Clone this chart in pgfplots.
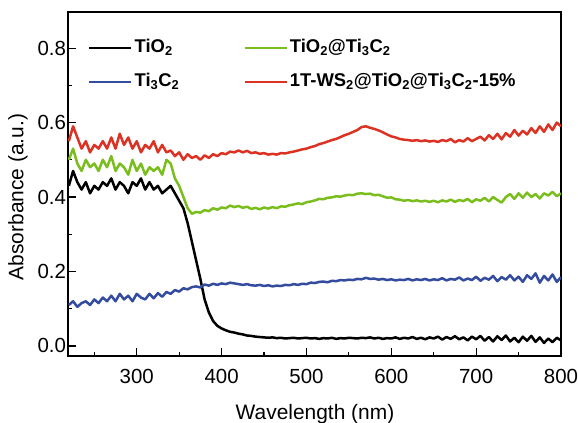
\documentclass[border=0pt]{standalone}
\usepackage{fontspec}
\setmainfont{Liberation Sans}
\usepackage{pgfplots}
\pgfplotsset{compat=1.18}
\definecolor{cblue}{RGB}{52,76,160}
\definecolor{cgreen}{RGB}{122,190,30}
\definecolor{cred}{RGB}{220,50,35}
\begin{document}
\begin{tikzpicture}
\begin{axis}[
 scale only axis, width=493bp, height=344bp,
 xmin=219, xmax=800, ymin=-0.027, ymax=0.897,
 axis line style={line width=1.3bp},
 tick align=inside, xtick pos=left, ytick pos=left,
 xtick={300,400,500,600,700,800}, minor xtick={250,350,450,550,650,750},
 ytick={0,0.2,0.4,0.6,0.8}, minor ytick={0.1,0.3,0.5,0.7},
 major tick length=8bp, minor tick length=4bp,
 every tick/.style={line width=1.2bp, black},
 /pgf/number format/assume math mode=true,
 ticklabel style={font=\fontsize{20.5}{24}\selectfont},
 yticklabel style={/pgf/number format/.cd, fixed, fixed zerofill, precision=1, /tikz/.cd, xshift=1.5bp},
 xticklabel style={yshift=-10bp},
 xlabel={Wavelength (nm)},
 ylabel={Absorbance (a.u.)},
 label style={font=\fontsize{21}{25}\selectfont},
 xlabel style={at={(axis description cs:0.501,-0.169)}, anchor=center},
 ylabel style={at={(axis description cs:-0.1014,0.462)}, anchor=center, rotate=0},
 legend columns=2,
 legend style={draw=none, fill=none, inner sep=0pt, outer sep=0pt,
   at={(axis description cs:0.0406,0.846)}, anchor=west,
   font=\bfseries\fontsize{18.5}{21}\selectfont,
   nodes={inner xsep=2bp, inner ysep=0pt, text height=13bp, text depth=4bp},
   row sep=17bp,
   /tikz/every even column/.append style={column sep=62bp}},
 legend cell align=left,
 legend image code/.code={\draw[#1, line width=2.6bp] (0bp,0bp) -- (42bp,0bp);},
 every axis plot/.append style={line width=2.5bp, line join=round},
]
\addplot[black] coordinates {
(220,0.43)(225,0.47)(230,0.44)(235,0.42)(240,0.44)(245,0.41)(250,0.43)(255,0.42)(260,0.44)(265,0.43)
(270,0.45)(275,0.42)(280,0.44)(285,0.43)(290,0.41)(295,0.44)(300,0.43)(305,0.45)(310,0.42)(315,0.44)
(320,0.42)(325,0.43)(330,0.41)(335,0.42)(340,0.43)(345,0.41)(350,0.39)(355,0.37)(360,0.33)(365,0.28)
(370,0.23)(375,0.18)(380,0.125)(385,0.09)(390,0.067)(395,0.054)(400,0.047)(405,0.042)(410,0.038)(415,0.036)
(420,0.033)(425,0.031)(430,0.028)(435,0.027)(440,0.025)(445,0.024)(450,0.023)(455,0.022)(460,0.023)(465,0.021)
(470,0.022)(475,0.020)(480,0.021)(485,0.022)(490,0.020)(495,0.021)(500,0.022)(505,0.020)(510,0.021)(515,0.019)
(520,0.021)(525,0.020)(530,0.022)(535,0.019)(540,0.021)(545,0.020)(550,0.022)(555,0.021)(560,0.020)(565,0.022)
(570,0.021)(575,0.023)(580,0.020)(585,0.022)(590,0.019)(595,0.021)(600,0.020)(605,0.023)(610,0.019)(615,0.022)
(620,0.020)(625,0.024)(630,0.019)(635,0.022)(640,0.018)(645,0.023)(650,0.020)(655,0.025)(660,0.017)(665,0.024)
(670,0.019)(675,0.026)(680,0.018)(685,0.023)(690,0.015)(695,0.025)(700,0.018)(705,0.027)(710,0.014)(715,0.024)
(720,0.012)(725,0.026)(730,0.016)(735,0.028)(740,0.012)(745,0.022)(750,0.010)(755,0.025)(760,0.014)(765,0.027)
(770,0.011)(775,0.023)(780,0.008)(785,0.020)(790,0.010)(795,0.022)(800,0.015)
};
\addlegendentry{TiO\textsubscript{2}}
\addplot[cgreen] coordinates {
(220,0.50)(225,0.53)(230,0.49)(235,0.47)(240,0.50)(245,0.48)(250,0.49)(255,0.47)(260,0.50)(265,0.48)
(270,0.51)(275,0.47)(280,0.49)(285,0.48)(290,0.46)(295,0.50)(300,0.47)(305,0.49)(310,0.46)(315,0.48)
(320,0.47)(325,0.48)(330,0.46)(335,0.50)(340,0.49)(345,0.45)(350,0.43)(355,0.40)(360,0.37)(365,0.355)
(370,0.36)(375,0.358)(380,0.365)(385,0.362)(390,0.370)(395,0.366)(400,0.372)(405,0.370)(410,0.377)(415,0.373)
(420,0.376)(425,0.371)(430,0.374)(435,0.368)(440,0.371)(445,0.367)(450,0.372)(455,0.369)(460,0.373)(465,0.370)
(470,0.375)(475,0.374)(480,0.378)(485,0.380)(490,0.383)(495,0.381)(500,0.386)(505,0.388)(510,0.391)(515,0.395)
(520,0.394)(525,0.398)(530,0.399)(535,0.402)(540,0.401)(545,0.404)(550,0.406)(555,0.405)(560,0.409)(565,0.410)
(570,0.408)(575,0.409)(580,0.405)(585,0.406)(590,0.402)(595,0.398)(600,0.399)(605,0.394)(610,0.393)(615,0.390)
(620,0.392)(625,0.389)(630,0.391)(635,0.388)(640,0.390)(645,0.387)(650,0.390)(655,0.386)(660,0.391)(665,0.388)
(670,0.393)(675,0.387)(680,0.392)(685,0.389)(690,0.395)(695,0.386)(700,0.394)(705,0.390)(710,0.398)(715,0.388)
(720,0.400)(725,0.392)(730,0.385)(735,0.400)(740,0.408)(745,0.395)(750,0.410)(755,0.398)(760,0.412)(765,0.400)
(770,0.408)(775,0.396)(780,0.410)(785,0.404)(790,0.414)(795,0.402)(800,0.410)
};
\addlegendentry{TiO\textsubscript{2}@Ti\textsubscript{3}C\textsubscript{2}}
\addplot[cblue] coordinates {
(220,0.110)(225,0.120)(230,0.105)(235,0.115)(240,0.120)(245,0.110)(250,0.125)(255,0.115)(260,0.130)(265,0.120)
(270,0.135)(275,0.120)(280,0.140)(285,0.125)(290,0.135)(295,0.120)(300,0.140)(305,0.130)(310,0.125)(315,0.140)
(320,0.128)(325,0.142)(330,0.132)(335,0.145)(340,0.140)(345,0.150)(350,0.146)(355,0.155)(360,0.152)(365,0.158)
(370,0.160)(375,0.157)(380,0.165)(385,0.162)(390,0.167)(395,0.164)(400,0.168)(405,0.166)(410,0.170)(415,0.168)
(420,0.166)(425,0.164)(430,0.166)(435,0.163)(440,0.162)(445,0.164)(450,0.161)(455,0.163)(460,0.160)(465,0.162)
(470,0.161)(475,0.164)(480,0.163)(485,0.166)(490,0.164)(495,0.167)(500,0.166)(505,0.170)(510,0.169)(515,0.172)
(520,0.173)(525,0.171)(530,0.175)(535,0.174)(540,0.177)(545,0.176)(550,0.178)(555,0.177)(560,0.180)(565,0.179)
(570,0.183)(575,0.180)(580,0.181)(585,0.178)(590,0.180)(595,0.177)(600,0.179)(605,0.176)(610,0.178)(615,0.177)
(620,0.180)(625,0.176)(630,0.179)(635,0.177)(640,0.180)(645,0.176)(650,0.179)(655,0.177)(660,0.182)(665,0.176)
(670,0.180)(675,0.178)(680,0.184)(685,0.176)(690,0.181)(695,0.177)(700,0.186)(705,0.175)(710,0.183)(715,0.178)
(720,0.188)(725,0.174)(730,0.185)(735,0.178)(740,0.190)(745,0.176)(750,0.186)(755,0.172)(760,0.190)(765,0.180)
(770,0.195)(775,0.170)(780,0.188)(785,0.176)(790,0.192)(795,0.172)(800,0.185)
};
\addlegendentry{Ti\textsubscript{3}C\textsubscript{2}}
\addplot[cred] coordinates {
(220,0.55)(225,0.59)(230,0.56)(235,0.53)(240,0.55)(245,0.52)(250,0.54)(255,0.53)(260,0.55)(265,0.53)
(270,0.56)(275,0.53)(280,0.57)(285,0.54)(290,0.56)(295,0.53)(300,0.55)(305,0.52)(310,0.54)(315,0.53)
(320,0.55)(325,0.52)(330,0.54)(335,0.52)(340,0.525)(345,0.51)(350,0.52)(355,0.50)(360,0.515)(365,0.505)
(370,0.510)(375,0.500)(380,0.512)(385,0.505)(390,0.515)(395,0.510)(400,0.518)(405,0.515)(410,0.522)(415,0.520)
(420,0.525)(425,0.520)(430,0.524)(435,0.518)(440,0.520)(445,0.516)(450,0.518)(455,0.514)(460,0.516)(465,0.514)
(470,0.518)(475,0.517)(480,0.520)(485,0.522)(490,0.525)(495,0.528)(500,0.530)(505,0.534)(510,0.537)(515,0.542)
(520,0.545)(525,0.549)(530,0.553)(535,0.556)(540,0.561)(545,0.566)(550,0.570)(555,0.575)(560,0.580)(565,0.588)
(570,0.590)(575,0.586)(580,0.583)(585,0.579)(590,0.574)(595,0.568)(600,0.563)(605,0.560)(610,0.556)(615,0.554)
(620,0.553)(625,0.551)(630,0.553)(635,0.550)(640,0.552)(645,0.549)(650,0.551)(655,0.548)(660,0.553)(665,0.550)
(670,0.556)(675,0.547)(680,0.553)(685,0.549)(690,0.558)(695,0.550)(700,0.556)(705,0.562)(710,0.552)(715,0.566)
(720,0.556)(725,0.570)(730,0.555)(735,0.572)(740,0.562)(745,0.580)(750,0.565)(755,0.578)(760,0.568)(765,0.585)
(770,0.572)(775,0.590)(780,0.575)(785,0.595)(790,0.580)(795,0.600)(800,0.590)
};
\addlegendentry{1T-WS\textsubscript{2}@TiO\textsubscript{2}@Ti\textsubscript{3}C\textsubscript{2}-15\%}
\end{axis}
\pgfresetboundingbox
\path (-68bp,-67bp) rectangle (510bp,356bp);
\end{tikzpicture}
\end{document}
